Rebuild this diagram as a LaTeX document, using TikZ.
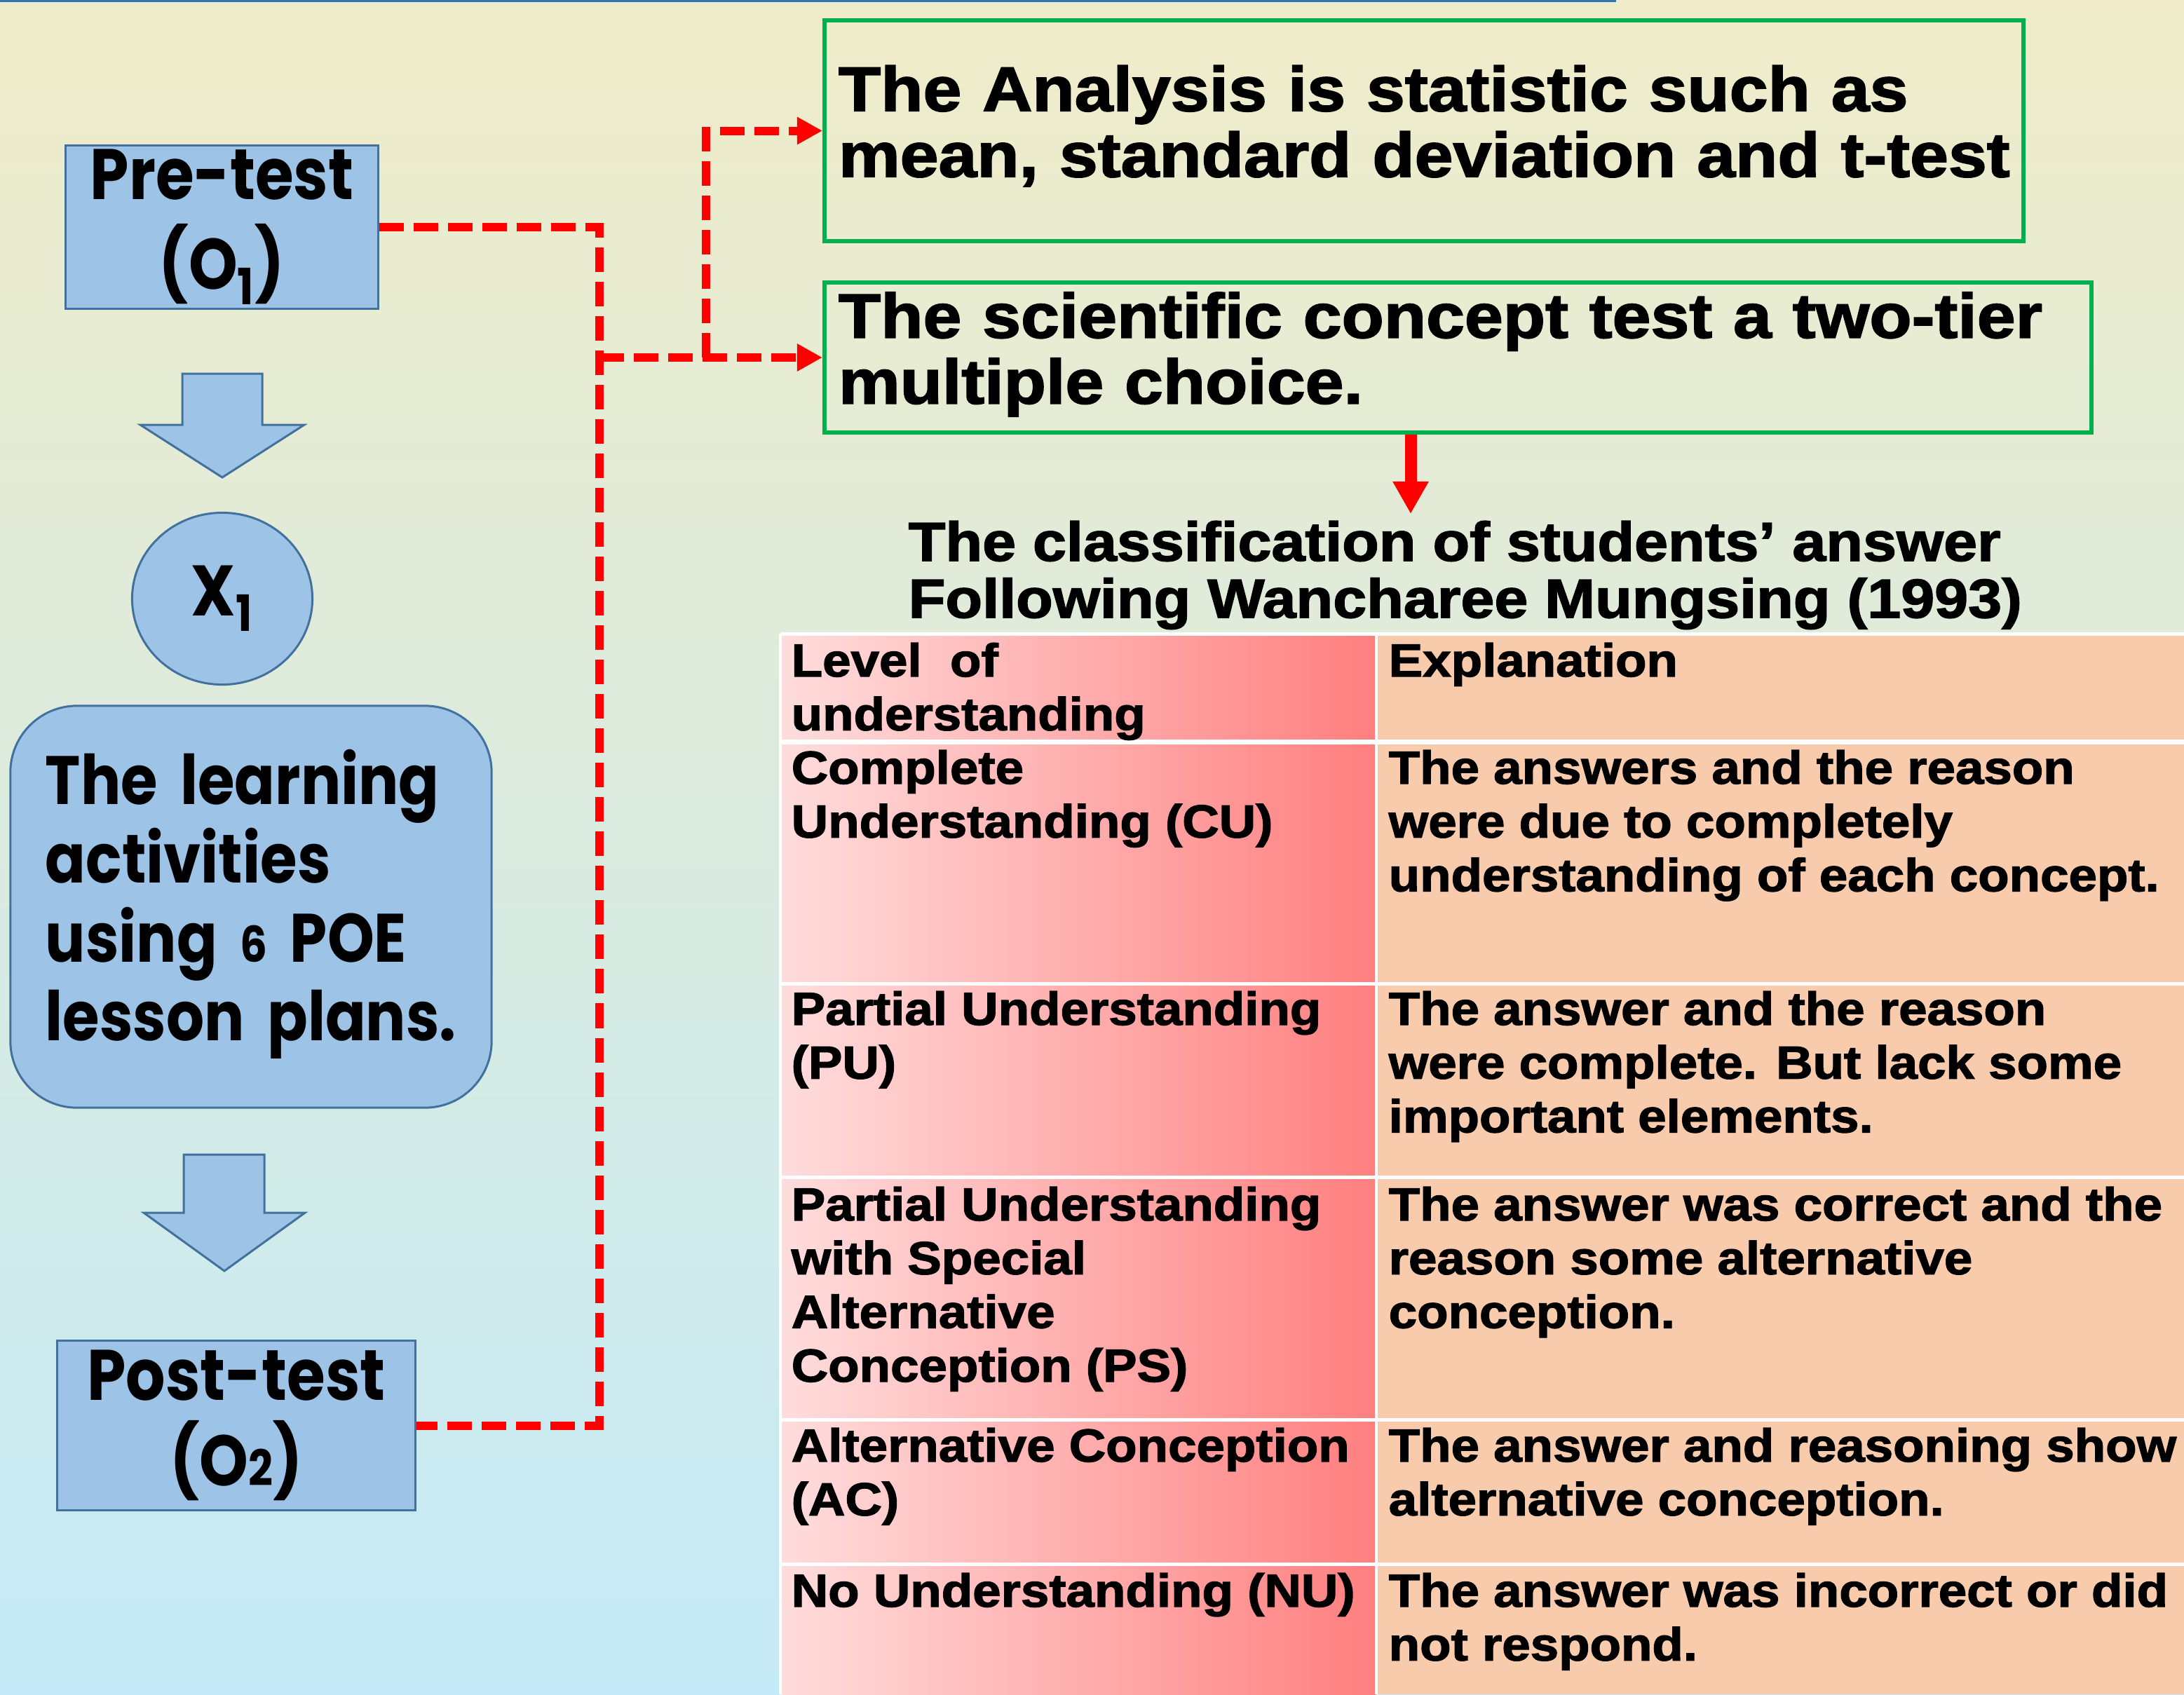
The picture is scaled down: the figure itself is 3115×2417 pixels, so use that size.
\documentclass[tikz,border=0pt]{standalone}
\usepackage{fontspec}
\usetikzlibrary{shapes.geometric, arrows.meta, positioning, calc}
\newfontfamily\geofont{Poppins}[FakeStretch=0.87]
\newfontfamily\heavyfont{Liberation Sans}[FakeStretch=1.1,FakeBold=2]
\newcommand{\cellstack}[1]{\begin{tabular}[t]{@{}l@{}}#1\end{tabular}}
\definecolor{boxblue}{RGB}{157,195,230}
\definecolor{boxedge}{RGB}{65,113,156}
\definecolor{okgreen}{RGB}{0,176,80}
\definecolor{pinklight}{RGB}{255,221,221}
\definecolor{pinkdeep}{RGB}{255,127,127}
\definecolor{peach}{RGB}{248,203,173}
\definecolor{bgtop}{RGB}{240,236,201}
\definecolor{bgmid}{RGB}{232,241,228}
\definecolor{bgbot}{RGB}{196,234,247}
\definecolor{rulecol}{RGB}{46,117,182}

\begin{document}
\begin{tikzpicture}[x=0.01cm, y=-0.01cm,
  bluebox/.style={draw=boxedge, line width=0.03cm, fill=boxblue, inner sep=0pt},
  geotext/.style={font=\geofont\bfseries\fontsize{29}{36.4}\selectfont},
  greenbox/.style={draw=okgreen, line width=0.06cm, inner xsep=0.2cm, inner ysep=0pt,
    align=left, anchor=west, font=\heavyfont\bfseries\fontsize{25.5}{26.7}\selectfont},
  reddash/.style={red, line width=0.12cm, dash pattern=on 0.35cm off 0.14cm},
  redtip/.style={-{Triangle[length=0.36cm, width=0.37cm]}},
  cell/.style={anchor=base west, inner sep=0pt,
    font=\heavyfont\bfseries\fontsize{18.8}{21.8}\selectfont}]
  \useasboundingbox (0,0) rectangle (3115,2417);
  \clip (0,0) rectangle (3115,2417);
  % slide background
  \shade[top color=bgtop, middle color=bgmid, bottom color=bgbot] (0,0) rectangle (3115,2417);
  \draw[rulecol, line width=0.03cm] (0,1.5) -- (2305,1.5);

  % classification table
  \shade[left color=pinklight, right color=pinkdeep] (1113,904) rectangle (1963,2417);
  \fill[peach] (1963,904) rectangle (3115,2417);
  \foreach \y in {904,1403,1679,2025,2231}
    {\draw[white, line width=0.05cm] (1113,\y) -- (3115,\y);}
  \draw[white, line width=0.07cm] (1113,1058) -- (3115,1058);
  \foreach \x in {1113,1963}
    {\draw[white, line width=0.04cm] (\x,904) -- (\x,2417);}
  \foreach \y/\lvl/\why [count=\i] in {
      965/{Level\ \ of\\understanding}/{Explanation},
      1118/{Complete\\Understanding (CU)}/{The answers and the reason\\were due to completely\\understanding of each concept.},
      1462/{Partial Understanding\\(PU)}/{The answer and the reason\\were complete. But lack some\\important elements.},
      1741/{Partial Understanding\\with Special\\Alternative\\Conception (PS)}/{The answer was correct and the\\reason some alternative\\conception.},
      2085/{Alternative Conception\\(AC)}/{The answer and reasoning show\\alternative conception.},
      2292/{No Understanding (NU)}/{The answer was incorrect or did\\not respond.}}
    {\node (level\i) [cell] at (1128,\y) {\cellstack{\lvl}};
     \node (expl\i) [cell] at (1980,\y) {\cellstack{\why}};}

  \node (title) [anchor=base west, inner sep=0pt,
    font=\heavyfont\bfseries\fontsize{22.3}{23}\selectfont] at (1295,800)
    {\cellstack{The classification of students’ answer\\Following Wancharee Mungsing (1993)}};

  % design boxes on the left
  \node (pretest) [bluebox, geotext, align=center, minimum width=4.45cm, minimum height=2.32cm]
    at (316.5,324) {Pre-test\\(O\textsubscript{1})};
  \draw[bluebox] (260,533) -- (374,533) -- (374,606) -- (434,606) -- (317,681)
    -- (200,606) -- (260,606) -- cycle;
  \node (xone) [bluebox, geotext, ellipse, minimum width=2.57cm, minimum height=2.45cm]
    at (317,854) {X\textsubscript{1}};
  \node (learning) [bluebox, rounded corners=0.95cm, minimum width=6.86cm,
    minimum height=5.73cm, text width=5.86cm, inner xsep=0.5cm, align=left,
    font=\geofont\bfseries\fontsize{27.8}{31.9}\selectfont] at (358,1293.5)
    {\cellstack{The learning\\activities\\using {\fontsize{20}{20}\selectfont 6} POE\\lesson plans.}};
  \draw[bluebox] (262,1647) -- (377,1647) -- (377,1730) -- (435,1730) -- (320,1813)
    -- (205,1730) -- (262,1730) -- cycle;
  \node (posttest) [bluebox, geotext, align=center, minimum width=5.10cm, minimum height=2.41cm,
    font=\geofont\bfseries\fontsize{29}{34.7}\selectfont]
    at (337,2033.5) {Post-test\\(O{\fontsize{20}{20}\selectfont 2})};

  % test and analysis boxes
  \node (analysis) [greenbox, minimum width=17.09cm, minimum height=3.15cm, text width=16.69cm]
    at (1173,186.5) {\cellstack{The Analysis is statistic such as\\mean, standard deviation and t-test}};
  \node (concept) [greenbox, minimum width=18.06cm, minimum height=2.14cm, text width=17.66cm]
    at (1173,510) {\cellstack{The scientific concept test a two-tier\\multiple choice.}};

  % connectors
  \coordinate (jn) at (855,510);
  \coordinate (split) at (1007,510);
  \coordinate (cls) at (2012,733);
  \draw[reddash] (pretest.east) -| (jn) |- (posttest.east);
  \draw[reddash, redtip] (jn) -- (concept.west);
  \draw[reddash, redtip] (split) |- (analysis.west);
  \draw[red, line width=0.17cm, -{Triangle[length=0.46cm, width=0.48cm]}]
    (concept.south -| cls) -- (cls);
\end{tikzpicture}
\end{document}
